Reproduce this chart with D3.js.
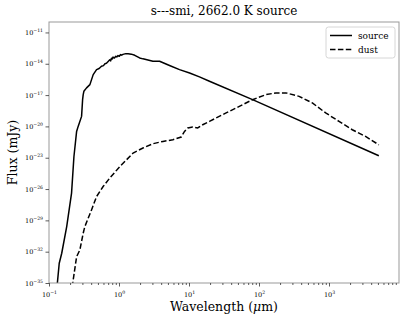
<!DOCTYPE html>
<html>
<head>
<meta charset="utf-8">
<script src="https://cdn.jsdelivr.net/npm/d3@7"></script>
<style>
  body { margin: 0; background: #fff; }
  svg { display: block; font-family: "DejaVu Serif", serif; }
</style>
</head>
<body>
<svg id="chart" width="407" height="322"></svg>
<script>
// ---- data ----
const titleText = "s---smi, 2662.0 K source";
const xLabelPre = "Wavelength (";
const xLabelUnitGreek = "\u03bc";
const xLabelPost = "m)";
const yLabel = "Flux (mJy)";
const seriesNames = ["source", "dust"];

// wavelength (micron) and log10 flux (mJy)
const sourceWave = [0.130, 0.140, 0.152, 0.179, 0.210, 0.227, 0.248, 0.261, 0.292, 0.302, 0.308, 0.315, 0.344, 0.384, 0.428, 0.478, 0.52, 0.562, 0.60, 0.63, 0.662, 0.70, 0.738, 0.76, 0.78, 0.80, 0.822, 0.86, 0.90, 0.93, 0.968, 1.01, 1.05, 1.09, 1.14, 1.25, 1.35, 1.50, 1.68, 1.97, 2.20, 3.05, 3.80, 5.27, 7.32, 10.2, 14.1, 19.6, 80.9, 5150];
const sourceLogFlux = [-35.4, -33.11, -32.15, -29.60, -26.39, -22.91, -20.48, -20.00, -19.04, -17.44, -16.96, -16.64, -16.31, -16.00, -15.04, -14.56, -14.45, -14.24, -14.18, -14.00, -13.95, -13.78, -13.62, -13.72, -13.48, -13.55, -13.36, -13.45, -13.28, -13.35, -13.22, -13.28, -13.12, -13.18, -13.10, -13.03, -13.05, -13.08, -13.19, -13.44, -13.53, -13.76, -13.76, -14.17, -14.56, -14.88, -15.26, -15.68, -17.44, -22.81];

const dustWave = [0.214, 0.248, 0.276, 0.308, 0.325, 0.405, 0.478, 0.593, 0.738, 1.03, 1.28, 1.59, 2.20, 3.05, 4.24, 5.88, 7.74, 8.63, 9.62, 11.3, 13.3, 15.7, 19.6, 33.9, 52.4, 81.0, 126, 174, 242, 374, 578, 897, 1390, 2150, 3330, 5150];
const dustLogFlux = [-35.4, -32.48, -31.83, -30.23, -29.60, -28.00, -26.72, -25.76, -24.95, -23.84, -23.20, -22.55, -22.07, -21.66, -21.44, -21.28, -21.02, -20.48, -20.15, -20.06, -20.15, -19.84, -19.52, -18.71, -18.08, -17.44, -16.96, -16.79, -16.79, -17.12, -17.75, -18.71, -19.52, -20.32, -20.96, -21.76];

const xTickExps = [-1, 0, 1, 2, 3];
const yTickExps = [-35, -32, -29, -26, -23, -20, -17, -14, -11];

// ---- layout ----
const svg = d3.select("#chart");
const m = { left: 49, right: 399, top: 22, bottom: 283 };

const x = d3.scaleLog().domain([0.1, 1e4]).range([m.left, m.right]);
const y = d3.scaleLog().domain([1e-35, 1e-10]).range([m.bottom, m.top]);

const toPts = (w, lf) => w.map((d, i) => [d, Math.pow(10, lf[i])]);
const line = d3.line().x(d => x(d[0])).y(d => y(d[1]));

svg.append("defs").append("clipPath").attr("id", "clip")
  .append("rect").attr("x", m.left).attr("y", m.top)
  .attr("width", m.right - m.left).attr("height", m.bottom - m.top);

const g = svg.append("g").attr("clip-path", "url(#clip)");
g.append("path").datum(toPts(sourceWave, sourceLogFlux))
  .attr("d", line).attr("fill", "none").attr("stroke", "#000")
  .attr("stroke-width", 1.5).attr("stroke-linejoin", "round");
g.append("path").datum(toPts(dustWave, dustLogFlux))
  .attr("d", line).attr("fill", "none").attr("stroke", "#000")
  .attr("stroke-width", 1.5).attr("stroke-dasharray", "5.5,2.4");

// frame
svg.append("rect").attr("x", m.left).attr("y", m.top)
  .attr("width", m.right - m.left).attr("height", m.bottom - m.top)
  .attr("fill", "none").attr("stroke", "#999").attr("stroke-width", 1);

// x ticks
const minorX = [];
for (let e = -1; e < 4; e++) for (let k = 2; k <= 9; k++) minorX.push(k * Math.pow(10, e));
const xAxisG = svg.append("g").attr("transform", `translate(0,${m.bottom})`);
xAxisG.call(d3.axisBottom(x).tickValues(minorX).tickSize(2).tickFormat(""))
  .call(a => a.select(".domain").remove())
  .call(a => a.selectAll("line").attr("stroke", "#333").attr("stroke-width", 0.8));
const xMaj = svg.append("g").attr("transform", `translate(0,${m.bottom})`);
xMaj.call(d3.axisBottom(x).tickValues(xTickExps.map(e => Math.pow(10, e))).tickSize(3.5).tickFormat(""))
  .call(a => a.select(".domain").remove())
  .call(a => a.selectAll("line").attr("stroke", "#333").attr("stroke-width", 0.8));
xMaj.selectAll(".tick").each(function (d, i) {
  const t = d3.select(this).append("text").attr("y", 14).attr("text-anchor", "middle")
    .attr("fill", "#000").style("font-family", "DejaVu Serif, serif").attr("font-size", 6.5);
  t.append("tspan").text("10");
  t.append("tspan").attr("dy", -3).attr("font-size", 4.6).text(String(xTickExps[i]).replace("-", "\u2212"));
});

// y ticks
const yMaj = svg.append("g").attr("transform", `translate(${m.left},0)`);
yMaj.call(d3.axisLeft(y).tickValues(yTickExps.map(e => Math.pow(10, e))).tickSize(3.5).tickFormat(""))
  .call(a => a.select(".domain").remove())
  .call(a => a.selectAll("line").attr("stroke", "#333").attr("stroke-width", 0.8));
yMaj.selectAll(".tick").each(function (d, i) {
  const t = d3.select(this).append("text").attr("x", -6).attr("y", 2.2).attr("text-anchor", "end")
    .attr("fill", "#000").style("font-family", "DejaVu Serif, serif").attr("font-size", 6.5);
  t.append("tspan").text("10");
  t.append("tspan").attr("dy", -3).attr("font-size", 4.6).text(String(yTickExps[i]).replace("-", "\u2212"));
});

// title and labels
svg.append("text").attr("x", (m.left + m.right) / 2).attr("y", 15)
  .attr("text-anchor", "middle").attr("font-size", 12).text(titleText);
const xl = svg.append("text").attr("x", (m.left + m.right) / 2).attr("y", 311)
  .attr("text-anchor", "middle").attr("font-size", 12.5);
xl.append("tspan").text(xLabelPre);
xl.append("tspan").attr("font-style", "italic").text(xLabelUnitGreek);
xl.append("tspan").text(xLabelPost);
svg.append("text").attr("transform", `translate(17,${(m.top + m.bottom) / 2}) rotate(-90)`)
  .attr("text-anchor", "middle").attr("font-size", 12.5).text(yLabel);

// legend
const lg = svg.append("g").attr("transform", "translate(326,27)");
lg.append("rect").attr("width", 69).attr("height", 31).attr("rx", 2.5)
  .attr("fill", "#fff").attr("stroke", "#ccc").attr("stroke-width", 0.8);
const dashes = [null, "5.5,2.4"];
seriesNames.forEach((name, i) => {
  const yy = 8.5 + i * 14;
  lg.append("line").attr("x1", 4).attr("x2", 26).attr("y1", yy).attr("y2", yy)
    .attr("stroke", "#000").attr("stroke-width", 1.5).attr("stroke-dasharray", dashes[i]);
  lg.append("text").attr("x", 32).attr("y", yy + 3.2).attr("font-size", 9).text(name);
});
</script>
</body>
</html>
